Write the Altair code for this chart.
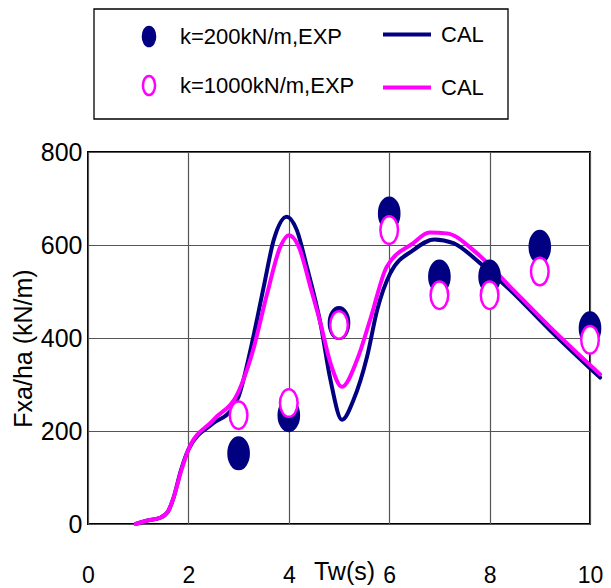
import altair as alt
import pandas as pd

# ---- data ----
tw_exp = [3, 4, 5, 6, 7, 8, 9, 10]
f_exp_200 = [152, 234, 432, 668, 532, 532, 596, 421]
f_exp_1000 = [234, 260, 428, 632, 492, 492, 543, 396]

tw_cal_200 = [0.95, 1.2, 1.45, 1.6, 1.7, 1.85, 2.0, 2.5, 2.85, 3.0, 3.25, 3.5, 3.7, 3.96,
              4.16, 4.36, 4.63, 4.83, 5.06, 5.29, 5.56, 5.76, 6.02, 6.48, 6.9, 7.28,
              7.81, 8.41, 9.2, 10.0, 10.2]
f_cal_200 = [0, 8, 14, 28, 55, 115, 160, 217, 245, 274, 381, 510, 611, 661,
             632, 553, 432, 310, 224, 267, 360, 460, 539, 589, 612, 604,
             561, 503, 417, 335, 315]

tw_cal_1000 = [0.95, 1.2, 1.45, 1.6, 1.7, 1.85, 2.0, 2.5, 3.0, 3.27, 3.57, 3.83, 4.0,
               4.2, 4.43, 4.63, 4.83, 5.06, 5.36, 5.62, 5.95, 6.48, 6.8, 7.15, 7.75,
               8.41, 9.2, 10.0, 10.2]
f_cal_1000 = [0, 8, 14, 28, 55, 112, 160, 224, 285, 367, 496, 596, 621,
              596, 510, 432, 346, 295, 353, 439, 553, 604, 627, 625, 582,
              510, 424, 342, 322]

S200 = "k=200kN/m,EXP"
S1000 = "k=1000kN/m,EXP"
C200 = "CAL (k=200kN/m)"
C1000 = "CAL (k=1000kN/m)"

NAVY = "#000080"
MAG = "#ff00ff"
FONT = "Liberation Sans"
ELLIPSE = "M -0.64 0 A 0.64 1 0 1 1 0.64 0 A 0.64 1 0 1 1 -0.64 0 Z"

pts = pd.DataFrame({
    "Tw": tw_exp + tw_exp,
    "F": f_exp_200 + f_exp_1000,
    "series": [S200] * len(tw_exp) + [S1000] * len(tw_exp),
})
cal = pd.DataFrame({
    "Tw": tw_cal_200 + tw_cal_1000,
    "F": f_cal_200 + f_cal_1000,
    "curve": [C200] * len(tw_cal_200) + [C1000] * len(tw_cal_1000),
})

x_enc = alt.X("Tw:Q", scale=alt.Scale(domain=[0, 10], nice=False, zero=False),
              axis=alt.Axis(values=[0, 2, 4, 6, 8, 10], title="Tw(s)", format="d",
                            labelFlush=False, labelPadding=58, labelBaseline="alphabetic",
                            labelOffset=0, labelFontSize=23,
                            titleX=256, titleY=55, titleBaseline="alphabetic",
                            titleAlign="center"))
y_enc = alt.Y("F:Q", scale=alt.Scale(domain=[0, 800], nice=False),
              axis=alt.Axis(values=[0, 200, 400, 600, 800], title="Fxa/ha  (kN/m)",
                            format="d", labelPadding=6,
                            titleX=-57, titleY=196, titleAngle=270, titleAlign="center",
                            titleBaseline="alphabetic", titleFontSize=25))

line_legend = alt.Legend(title=None, orient="none", legendX=293, legendY=-143.5,
                         symbolType="stroke", symbolSize=2304, symbolStrokeWidth=4,
                         labelExpr="'CAL'", labelFont=FONT, labelFontSize=22,
                         labelOffset=8, rowPadding=16, padding=0, labelColor="black")

lines = alt.Chart(cal).mark_line(strokeWidth=4, clip=False, interpolate="monotone",
                                 strokeJoin="round", strokeCap="round").encode(
    x=x_enc, y=y_enc,
    stroke=alt.Stroke("curve:N", scale=alt.Scale(domain=[C200, C1000], range=[NAVY, MAG]),
                      legend=line_legend),
)

pt_legend = alt.Legend(title=None, orient="none", legendX=50, legendY=-126.5,
                       symbolType=ELLIPSE, symbolSize=361, symbolStrokeWidth=2.5,
                       labelFont=FONT, labelFontSize=22, labelOffset=20, rowPadding=19,
                       padding=0, labelColor="black", labelLimit=400)

points = alt.Chart(pts).mark_point(filled=True, opacity=1, strokeWidth=2.5, shape=ELLIPSE,
                                   clip=False).encode(
    x=x_enc, y=y_enc,
    fill=alt.Fill("series:N", scale=alt.Scale(domain=[S200, S1000], range=[NAVY, "#ffffff"]),
                  legend=pt_legend),
    stroke=alt.Stroke("series:N", scale=alt.Scale(domain=[S200, S1000], range=[NAVY, MAG]),
                      legend=pt_legend),
    size=alt.condition(alt.datum.series == S200, alt.value(992), alt.value(756)),
)

frame = alt.Chart(alt.Data(values=[{"box": 1}])).mark_rect(
    fill="white", fillOpacity=0, stroke="black", strokeWidth=1.3, clip=False
).encode(x=alt.value(6), x2=alt.value(420), y=alt.value(-143), y2=alt.value(-33))

chart = alt.layer(frame, lines, points).resolve_scale(
    stroke="independent", fill="independent"
).properties(
    width=502, height=372,
    autosize=alt.AutoSizeParams(type="none"),
    padding={"left": 80, "top": 144, "right": 13, "bottom": 64},
).configure_view(
    stroke="black", strokeWidth=2
).configure_axis(
    domain=False, ticks=False, grid=True, gridColor="#555555", gridWidth=1.2,
    labelFont=FONT, labelFontSize=25, labelColor="black",
    titleFont=FONT, titleFontSize=25, titleColor="black", titleFontWeight="normal",
)

chart.save("out.html", embed_options={"renderer": "svg", "actions": False})
